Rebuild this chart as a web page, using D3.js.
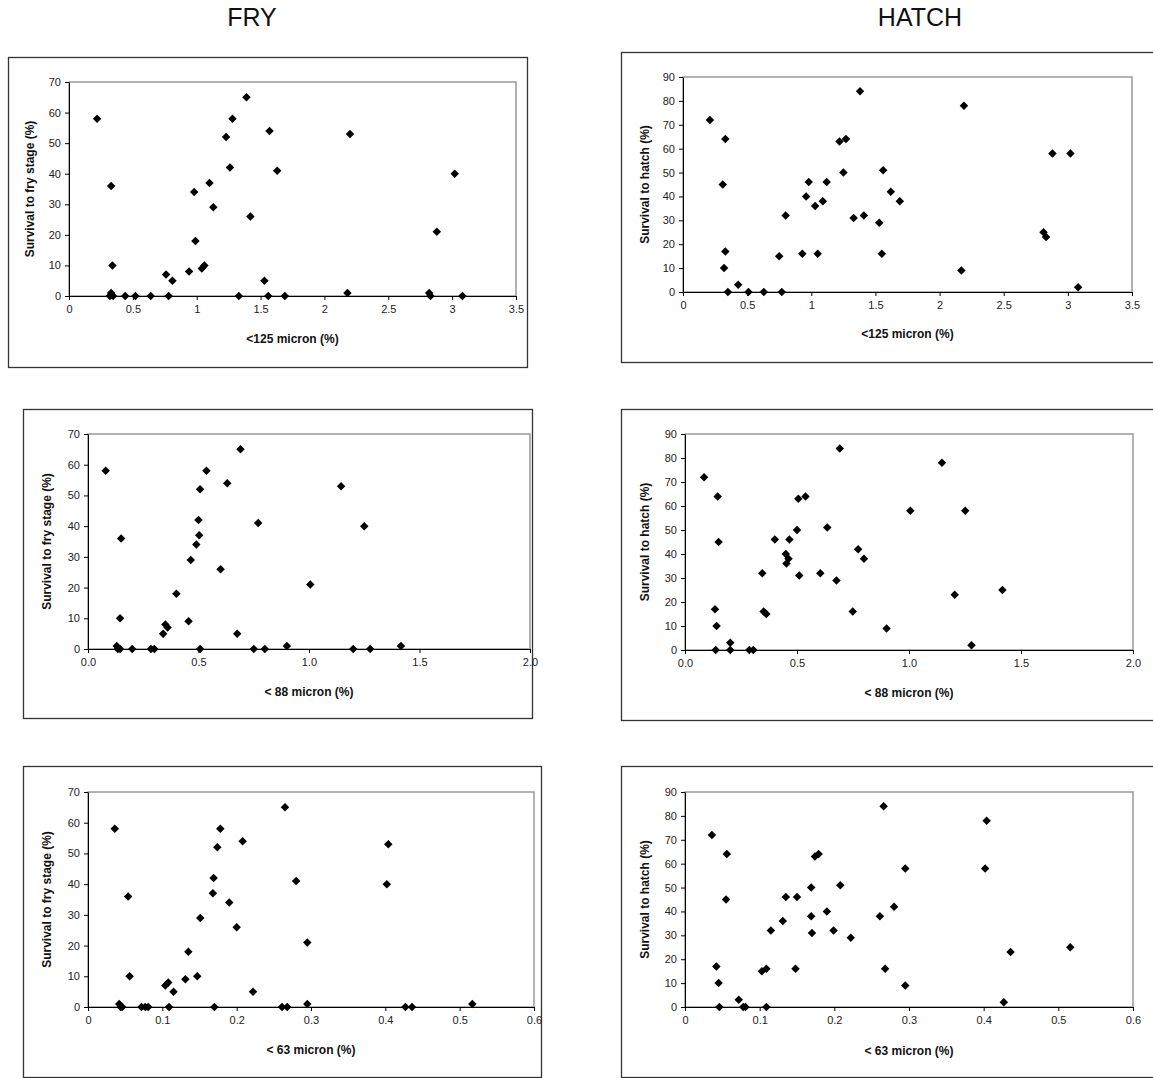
<!DOCTYPE html>
<html>
<head>
<meta charset="utf-8">
<script src="https://cdn.jsdelivr.net/npm/d3@7"></script>
<style>
  body { margin: 0; background: #fff; }
  svg { display: block; font-family: "Liberation Sans", Arial, sans-serif; }
  .tick text { font-size: 11px; fill: #222; }
  .axis path, .axis line { stroke: #000; }
  .atitle { font-size: 12px; font-weight: bold; fill: #111; }
</style>
</head>
<body>
<div id="chart"></div>
<script>

// column titles and axis titles
var titles = ["FRY", "HATCH"];
var xTitles = ["<125 micron (%)", "< 88 micron (%)", "< 63 micron (%)"];
var yTitles = ["Survival to fry stage (%)", "Survival to hatch (%)"];

// tick values
var xTicks125 = [0, 0.5, 1, 1.5, 2, 2.5, 3, 3.5];
var xTicks88 = [0, 0.5, 1, 1.5, 2];
var xTicks63 = [0, 0.1, 0.2, 0.3, 0.4, 0.5, 0.6];
var fryTicks = [0, 10, 20, 30, 40, 50, 60, 70];
var hatchTicks = [0, 10, 20, 30, 40, 50, 60, 70, 80, 90];

// <125 micron
var fryX125 = [0.22,0.33,0.34,0.32,0.33,0.345,0.44,0.52,0.64,0.76,0.78,0.81,0.94,0.98,0.99,1.04,1.06,1.10,1.13,1.23,1.26,1.28,1.33,1.39,1.42,1.53,1.56,1.57,1.63,1.69,2.18,2.20,2.82,2.83,2.88,3.02,3.08];
var fryY125 = [58,36,10,0,1,0,0,0,0,7,0,5,8,34,18,9,10,37,29,52,42,58,0,65,26,5,0,54,41,0,1,53,1,0,21,40,0];
var hatchX125 = [0.21,0.33,0.31,0.33,0.32,0.35,0.43,0.51,0.63,0.75,0.77,0.80,0.93,0.96,0.98,1.03,1.05,1.09,1.12,1.22,1.27,1.25,1.33,1.38,1.41,1.53,1.56,1.55,1.62,1.69,2.17,2.19,2.81,2.83,2.88,3.02,3.08];
var hatchY125 = [72,64,45,17,10,0,3,0,0,15,0,32,16,40,46,36,16,38,46,63,64,50,31,84,32,29,51,16,42,38,9,78,25,23,58,58,2];

// < 88 micron
var fryX88 = [0.08,0.15,0.145,0.13,0.135,0.145,0.20,0.285,0.30,0.34,0.35,0.36,0.40,0.455,0.465,0.49,0.50,0.503,0.507,0.507,0.536,0.60,0.63,0.675,0.69,0.75,0.77,0.80,0.90,1.006,1.145,1.20,1.25,1.277,1.416];
var fryY88 = [58,36,10,1,0,0,0,0,0,5,8,7,18,9,29,34,42,37,52,0,58,26,54,5,65,0,41,0,1,21,53,0,40,0,1];
var hatchX88 = [0.085,0.146,0.15,0.134,0.141,0.137,0.202,0.202,0.287,0.305,0.345,0.351,0.363,0.401,0.453,0.466,0.45,0.462,0.51,0.506,0.538,0.50,0.604,0.635,0.676,0.691,0.749,0.773,0.799,0.90,1.006,1.147,1.204,1.251,1.279,1.417];
var hatchY88 = [72,64,45,17,10,0,3,0,0,0,32,16,15,46,36,46,40,38,31,63,64,50,32,51,29,84,16,42,38,9,58,78,23,58,2,25];

// < 63 micron
var fryX63 = [0.036,0.054,0.056,0.042,0.044,0.046,0.072,0.077,0.081,0.104,0.108,0.109,0.115,0.131,0.135,0.147,0.151,0.168,0.169,0.170,0.174,0.178,0.190,0.200,0.208,0.222,0.261,0.265,0.268,0.280,0.295,0.295,0.402,0.404,0.427,0.436,0.517];
var fryY63 = [58,36,10,1,0,0,0,0,0,7,8,0,5,9,18,10,29,37,42,0,52,58,34,26,54,5,0,65,0,41,21,1,40,53,0,0,1];
var hatchX63 = [0.036,0.056,0.055,0.042,0.045,0.046,0.072,0.078,0.081,0.103,0.109,0.109,0.115,0.131,0.135,0.148,0.150,0.169,0.169,0.170,0.174,0.179,0.190,0.199,0.208,0.222,0.261,0.266,0.268,0.280,0.295,0.295,0.402,0.404,0.427,0.436,0.516];
var hatchY63 = [72,64,45,17,10,0,3,0,0,15,16,0,32,36,46,16,46,38,50,31,63,64,40,32,51,29,38,84,16,42,58,9,58,78,2,23,25];

var W = 1153, H = 1078;

var svg = d3.select("#chart").append("svg")
    .attr("width", W)
    .attr("height", H);

// panel layout: box = outer frame, plot = [left, top, right, bottom]
var panels = [
    {xs: fryX125, ys: fryY125, xt: xTicks125, yt: fryTicks, fmt: d3.format(""), xTitle: 0, yTitle: 0,
     box: [8, 57, 527, 367], plot: [69, 82, 516, 296], xlabY: 340, ylabX: 31},
    {xs: hatchX125, ys: hatchY125, xt: xTicks125, yt: hatchTicks, fmt: d3.format(""), xTitle: 0, yTitle: 1,
     box: [621, 52, 1165, 362], plot: [683, 77, 1132, 292], xlabY: 335, ylabX: 646},
    {xs: fryX88, ys: fryY88, xt: xTicks88, yt: fryTicks, fmt: d3.format(".1f"), xTitle: 1, yTitle: 0,
     box: [23, 409, 532, 718], plot: [88, 434, 530, 649], xlabY: 693, ylabX: 48},
    {xs: hatchX88, ys: hatchY88, xt: xTicks88, yt: hatchTicks, fmt: d3.format(".1f"), xTitle: 1, yTitle: 1,
     box: [621, 409, 1165, 720], plot: [685, 434, 1133, 650], xlabY: 694, ylabX: 646},
    {xs: fryX63, ys: fryY63, xt: xTicks63, yt: fryTicks, fmt: d3.format(""), xTitle: 2, yTitle: 0,
     box: [23, 766, 541, 1077], plot: [88, 792, 534, 1007], xlabY: 1051, ylabX: 48},
    {xs: hatchX63, ys: hatchY63, xt: xTicks63, yt: hatchTicks, fmt: d3.format(""), xTitle: 2, yTitle: 1,
     box: [621, 766, 1165, 1077], plot: [685, 792, 1133, 1007], xlabY: 1052, ylabX: 646}
];

// column titles
svg.selectAll(".ctitle")
    .data(titles)
    .enter().append("text")
    .attr("class", "ctitle")
    .attr("x", function(d, i) { return i == 0 ? 252 : 920; })
    .attr("y", 19)
    .attr("text-anchor", "middle")
    .attr("dominant-baseline", "middle")
    .style("font-size", "25px")
    .style("fill", "#111")
    .text(function(d) { return d; });

var diamond = d3.symbol().type(d3.symbolSquare).size(36);

panels.forEach(function(p) {
    var g = svg.append("g");

    // outer frame
    g.append("rect")
        .attr("x", p.box[0] + 0.5)
        .attr("y", p.box[1] + 0.5)
        .attr("width", p.box[2] - p.box[0])
        .attr("height", p.box[3] - p.box[1])
        .attr("fill", "none")
        .attr("stroke", "#333")
        .attr("stroke-width", 1.3);

    var x = d3.scaleLinear()
        .domain([0, d3.max(p.xt)])
        .range([p.plot[0], p.plot[2]]);
    var y = d3.scaleLinear()
        .domain([0, d3.max(p.yt)])
        .range([p.plot[3], p.plot[1]]);

    // grey plot-area border (top & right show)
    g.append("rect")
        .attr("x", p.plot[0])
        .attr("y", p.plot[1])
        .attr("width", p.plot[2] - p.plot[0])
        .attr("height", p.plot[3] - p.plot[1])
        .attr("fill", "none")
        .attr("stroke", "#999")
        .attr("stroke-width", 1.5);

    g.append("g")
        .attr("class", "axis")
        .attr("transform", "translate(0," + p.plot[3] + ")")
        .call(d3.axisBottom(x).tickValues(p.xt).tickFormat(p.fmt)
            .tickSize(4).tickSizeOuter(0).tickPadding(5));

    g.append("g")
        .attr("class", "axis")
        .attr("transform", "translate(" + p.plot[0] + ",0)")
        .call(d3.axisLeft(y).tickValues(p.yt)
            .tickSize(4).tickSizeOuter(0).tickPadding(4));

    g.selectAll(".dot")
        .data(p.xs.map(function(v, i) { return [v, p.ys[i]]; }))
        .enter().append("path")
        .attr("class", "dot")
        .attr("d", diamond)
        .attr("transform", function(d) {
            return "translate(" + x(d[0]) + "," + y(d[1]) + ") rotate(45)";
        })
        .attr("fill", "#000");

    g.append("text")
        .attr("class", "atitle")
        .attr("x", (p.plot[0] + p.plot[2]) / 2)
        .attr("y", p.xlabY)
        .attr("text-anchor", "middle")
        .attr("dominant-baseline", "middle")
        .text(xTitles[p.xTitle]);

    g.append("text")
        .attr("class", "atitle")
        .attr("transform", "translate(" + p.ylabX + "," + ((p.plot[1] + p.plot[3]) / 2) + ") rotate(-90)")
        .attr("text-anchor", "middle")
        .attr("dominant-baseline", "middle")
        .text(yTitles[p.yTitle]);
});

</script>
</body>
</html>
